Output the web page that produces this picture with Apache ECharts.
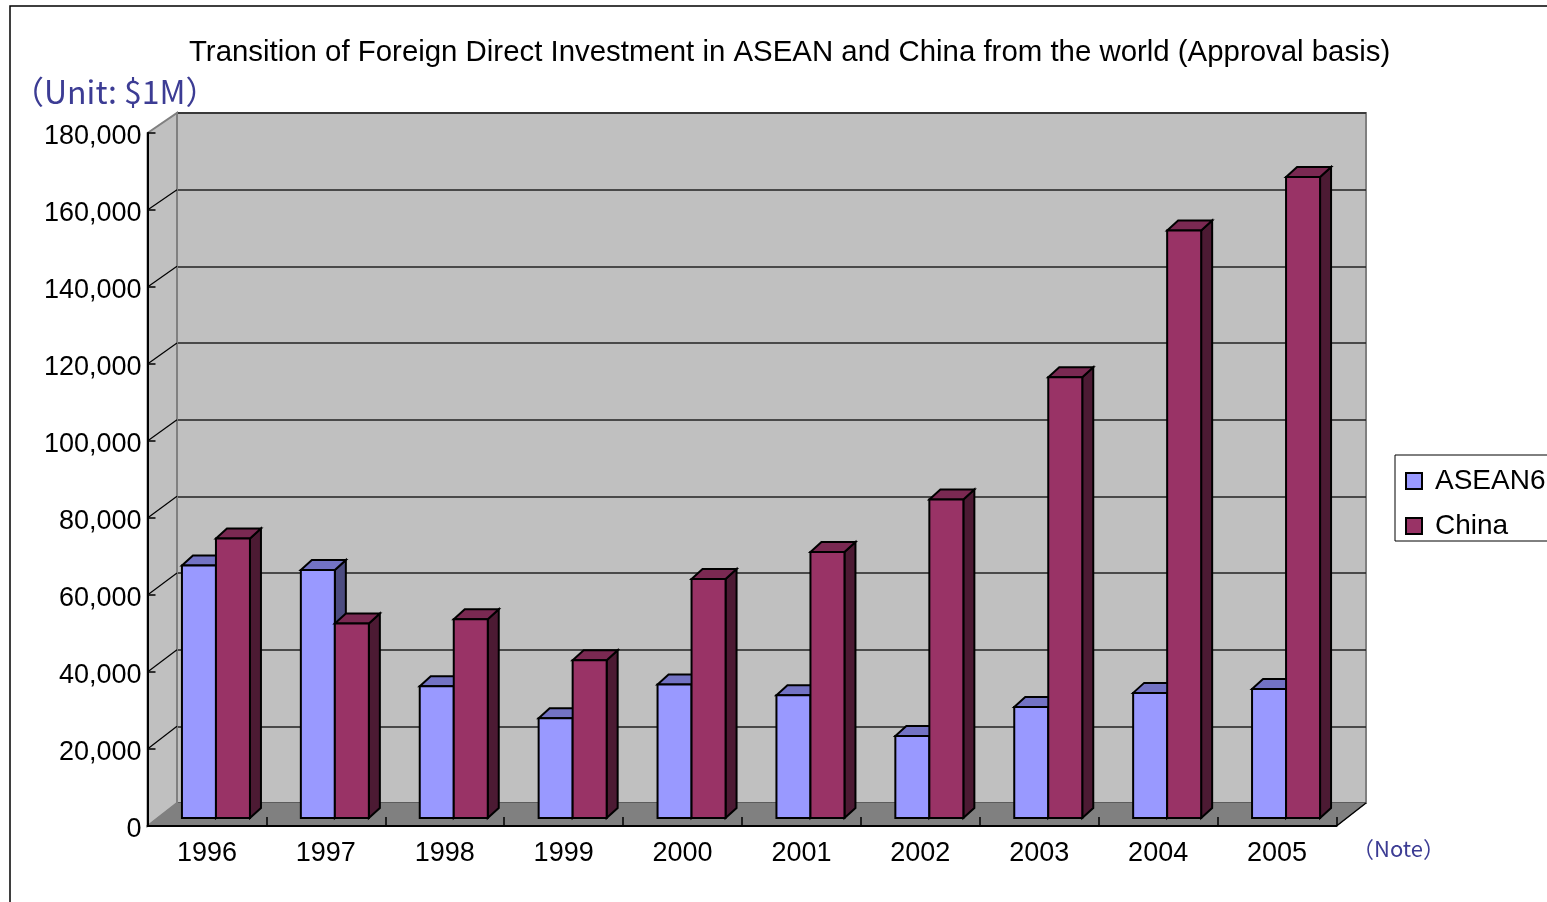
<!DOCTYPE html>
<html>
<head>
<meta charset="utf-8">
<script src="https://cdn.jsdelivr.net/npm/echarts@6/dist/echarts.min.js"></script>
<style>
  html, body { margin: 0; padding: 0; background: #fff; }
  #chart { width: 1547px; height: 902px; }
</style>
</head>
<body>
<div id="chart"></div>
<script>
// Foreign direct investment (approval basis), unit: $1M
const years = ['1996', '1997', '1998', '1999', '2000', '2001', '2002', '2003', '2004', '2005'];
const asean6 = [65600, 64400, 34200, 25900, 34700, 31900, 21300, 28800, 32500, 33500];
const china = [72600, 50500, 51600, 41000, 62100, 69100, 82700, 114500, 152600, 166500];
const seriesNames = ['ASEAN6', 'China'];
const yMax = 180000;
const yStep = 20000;

// Oblique 3D frame: front plane (axes) and back wall
const FRONT = { left: 147.5, top: 133, width: 1189, height: 693 };
const BACK = { left: 177, top: 113, width: 1189, height: 690 };

// Bar placement inside the depth of the plot
const BAR_FRAC = 0.286;     // each bar's share of a category band
const BAR_SHIFT = [9, -8];  // front face offset from the front plane
const BAR_DEPTH = [11, -10];

const FONT = '"Liberation Sans", Arial, sans-serif';
const CJK = '"Noto Sans CJK JP", "Liberation Sans", sans-serif';
const NAVY = '#3c3c94';

const faces = {
  ASEAN6: { front: '#9999ff', top: '#7373c4', side: '#4c4c80' },
  China: { front: '#993366', top: '#7a2952', side: '#4c1a33' }
};

function box3d(slot, palette) {
  return function (params, api) {
    const c = api.value(0), v = api.value(1);
    const top = api.coord([c, v]);
    const base = api.coord([c, 0]);
    const band = api.size([1, 0])[0];
    const w = band * BAR_FRAC;
    const x0 = top[0] + BAR_SHIFT[0] + (slot === 0 ? -w : 0);
    const x1 = x0 + w;
    const yt = top[1] + BAR_SHIFT[1];
    const yb = base[1] + BAR_SHIFT[1];
    const dx = BAR_DEPTH[0], dy = BAR_DEPTH[1];
    const line = { stroke: '#000', lineWidth: 2, lineJoin: 'miter' };
    return {
      type: 'group',
      children: [
        { type: 'polygon', shape: { points: [[x1, yt], [x1 + dx, yt + dy], [x1 + dx, yb + dy], [x1, yb]] },
          style: Object.assign({ fill: palette.side }, line) },
        { type: 'polygon', shape: { points: [[x0, yt], [x1, yt], [x1 + dx, yt + dy], [x0 + dx, yt + dy]] },
          style: Object.assign({ fill: palette.top }, line) },
        { type: 'rect', shape: { x: x0, y: yt, width: w, height: yb - yt },
          style: Object.assign({ fill: palette.front }, line) }
      ]
    };
  };
}

// Side wall, floor and side-wall grid lines
const wallGraphics = [];
const fl = FRONT.left, fr = FRONT.left + FRONT.width, ft = FRONT.top, fb = FRONT.top + FRONT.height;
const bl = BACK.left, br = BACK.left + BACK.width, bt = BACK.top, bb = BACK.top + BACK.height;
wallGraphics.push({
  type: 'polygon', z: 1,
  shape: { points: [[fl, ft], [bl, bt], [bl, bb], [fl, fb]] },
  style: { fill: '#c0c0c0', stroke: '#808080', lineWidth: 2 }
});
wallGraphics.push({
  type: 'polygon', z: 1,
  shape: { points: [[fl, fb], [bl, bb], [br, bb], [fr, fb]] },
  style: { fill: '#808080', stroke: '#808080', lineWidth: 1 }
});
wallGraphics.push({
  type: 'line', z: 2,
  shape: { x1: fr, y1: fb, x2: br, y2: bb },
  style: { stroke: '#000', lineWidth: 1.5 }
});
for (let v = yStep; v < yMax; v += yStep) {
  const yf = ft + FRONT.height * (1 - v / yMax);
  const yb = bt + BACK.height * (1 - v / yMax);
  wallGraphics.push({
    type: 'line', z: 2,
    shape: { x1: fl, y1: yf, x2: bl, y2: yb },
    style: { stroke: '#000', lineWidth: 1.2 }
  });
}

const chart = echarts.init(document.getElementById('chart'), null, { renderer: 'canvas' });
chart.setOption({
  backgroundColor: '#ffffff',
  animation: false,
  title: {
    text: 'Transition of Foreign Direct Investment in ASEAN and China from the world (Approval basis)',
    left: 184, top: 33,
    textStyle: { fontFamily: FONT, fontSize: 29.4, fontWeight: 'normal', color: '#000' }
  },
  legend: {
    orient: 'vertical',
    left: 1395, top: 455,
    padding: [11, 30, 0, 10],
    itemGap: 15,
    itemWidth: 16, itemHeight: 16,
    icon: 'rect',
    backgroundColor: '#fff',
    borderColor: '#000', borderWidth: 1,
    itemStyle: { borderColor: '#000', borderWidth: 2 },
    textStyle: { fontFamily: FONT, fontSize: 28, color: '#000', lineHeight: 30, padding: [0, 0, 0, 8] },
    data: seriesNames
  },
  graphic: [
    { type: 'rect', z: 0, silent: true,
      shape: { x: 10, y: 6, width: 1700, height: 1000 },
      style: { fill: 'none', stroke: '#000', lineWidth: 1.5 } },
    { type: 'text', z: 3, left: 12, top: 76,
      style: { text: '（Unit: $1M）', font: '32px ' + CJK, fill: NAVY } },
    { type: 'text', z: 3, left: 1352, top: 838,
      style: { text: '（Note）', font: '22px ' + CJK, fill: NAVY } }
  ].concat(wallGraphics),
  grid: [
    { left: BACK.left, top: BACK.top, width: BACK.width, height: BACK.height,
      show: true, backgroundColor: '#c0c0c0', borderColor: '#808080', borderWidth: 2, z: 0 },
    { left: FRONT.left, top: FRONT.top, width: FRONT.width, height: FRONT.height, z: 5 }
  ],
  xAxis: [
    { gridIndex: 0, type: 'category', data: years, show: false },
    { gridIndex: 1, type: 'category', data: years, z: 5,
      axisLine: { lineStyle: { color: '#000', width: 2 } },
      axisTick: { show: true, inside: true, length: 9, lineStyle: { color: '#000', width: 1.5 } },
      axisLabel: { margin: 14, fontFamily: FONT, fontSize: 27, color: '#000' } }
  ],
  yAxis: [
    { gridIndex: 0, type: 'value', min: 0, max: yMax, interval: yStep,
      axisLine: { show: false }, axisTick: { show: false }, axisLabel: { show: false },
      splitLine: { lineStyle: { color: '#222', width: 1.5 } } },
    { gridIndex: 1, type: 'value', min: 0, max: yMax, interval: yStep, z: 5,
      axisLine: { show: true, lineStyle: { color: '#000', width: 2 } },
      axisTick: { show: true, inside: true, length: 8, lineStyle: { color: '#000', width: 1.5 } },
      splitLine: { show: false },
      axisLabel: { margin: 6, color: '#000',
        formatter: function (v) { return '{t|' + v.toLocaleString('en-US') + '}'; },
        rich: { t: { fontFamily: FONT, fontSize: 27, color: '#000', padding: [8, 0, 0, 0] } } } }
  ],
  series: [
    { name: 'ASEAN6', type: 'custom', xAxisIndex: 1, yAxisIndex: 1, z: 3,
      itemStyle: { color: faces.ASEAN6.front },
      encode: { x: 0, y: 1 },
      renderItem: box3d(0, faces.ASEAN6),
      data: asean6.map(function (v, i) { return [i, v]; }) },
    { name: 'China', type: 'custom', xAxisIndex: 1, yAxisIndex: 1, z: 3,
      itemStyle: { color: faces.China.front },
      encode: { x: 0, y: 1 },
      renderItem: box3d(1, faces.China),
      data: china.map(function (v, i) { return [i, v]; }) }
  ]
});
</script>
</body>
</html>
